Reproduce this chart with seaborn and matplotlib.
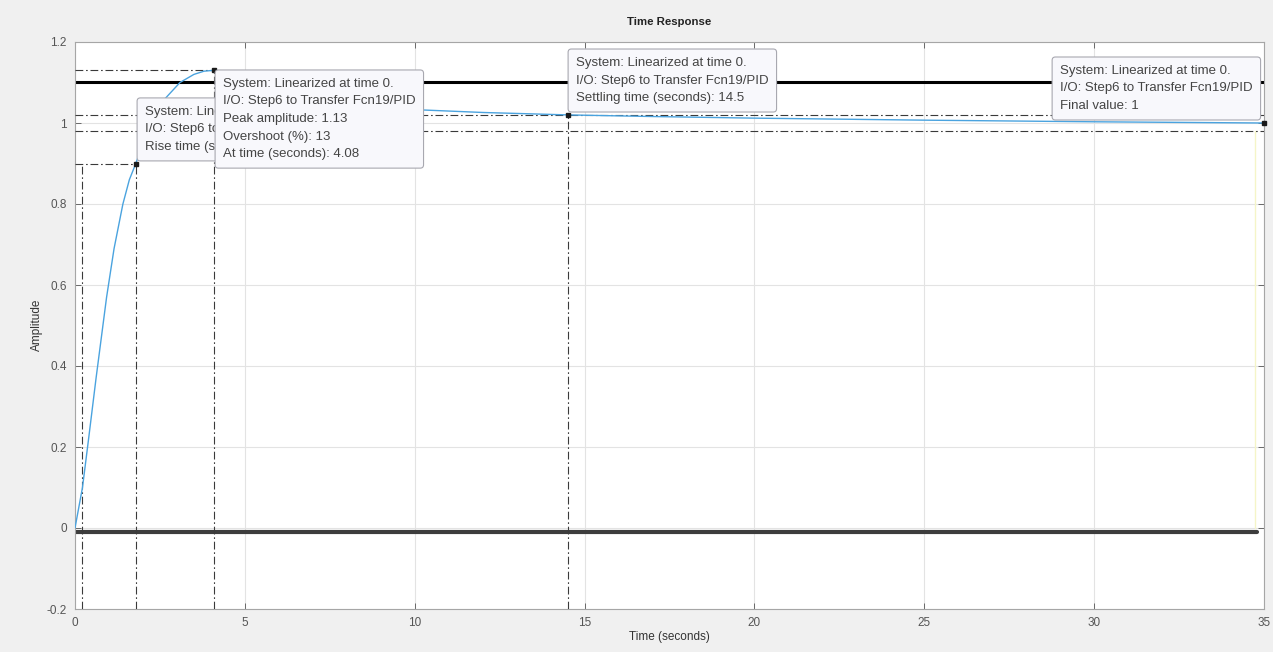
import matplotlib
matplotlib.use("Agg")
import matplotlib.pyplot as plt
import seaborn as sns
import pandas as pd
from matplotlib.ticker import FuncFormatter

# Step response samples (time in seconds, amplitude)
time_s = [0, 0.22, 0.4, 0.62, 0.93, 1.15, 1.41, 1.6, 1.79, 2.0, 2.3, 2.65,
          3.09, 3.5, 3.8, 4.08, 4.5, 5.0, 6.0, 7.0, 8.0, 9.0, 10.0, 12.0,
          14.5, 17.0, 20.0, 25.0, 30.0, 35.0]
amplitude = [0, 0.1, 0.22, 0.37, 0.57, 0.69, 0.8, 0.86, 0.9, 0.95, 1.01, 1.06,
             1.1, 1.12, 1.128, 1.13, 1.127, 1.118, 1.09, 1.065, 1.05, 1.04,
             1.033, 1.026, 1.02, 1.016, 1.012, 1.007, 1.003, 1.0]

# Response characteristics
rise_start = 0.22
rise_end, rise_level = 1.79, 0.9
peak_time, peak_amp, overshoot = 4.08, 1.13, 13
settle_time, settle_level = 14.5, 1.02
band_hi, band_lo = 1.02, 0.98
final_time, final_value = 35.0, 1.0

# Requirement bounds
upper_bound = 1.1
lower_bound = -0.01

x_ticks = [0, 5, 10, 15, 20, 25, 30, 35]
y_ticks = [-0.2, 0, 0.2, 0.4, 0.6, 0.8, 1.0, 1.2]

sns.set_style("ticks")
plt.rcParams["font.family"] = ["Liberation Sans", "DejaVu Sans"]
plt.rcParams["axes.unicode_minus"] = False

fig = plt.figure(figsize=(12.73, 6.52), dpi=100, facecolor="#f0f0f0")
ax = fig.add_axes([75 / 1273, 1 - 609 / 652, (1264 - 75) / 1273, (609 - 42) / 652])
ax.set_facecolor("white")

df = pd.DataFrame({"t": time_s, "y": amplitude})

ax.set_xlim(0, 35)
ax.set_ylim(-0.2, 1.2)
ax.set_xticks(x_ticks)
ax.set_yticks(y_ticks)
ax.yaxis.set_major_formatter(FuncFormatter(lambda v, p: f"{v:g}"))
ax.grid(True, color="#e3e3e3", lw=0.8, zorder=0)
ax.tick_params(direction="in", top=True, right=True, length=4, width=0.6,
               colors="#555555", labelsize=8.5, pad=6)
for s in ax.spines.values():
    s.set_color("#a6a6a6")
    s.set_linewidth(0.8)

# bounds
ax.plot([0, 35], [upper_bound, upper_bound], color="black", lw=2.2, zorder=2)
ax.plot([0, 34.8], [lower_bound, lower_bound], color="#3d3d3d", lw=3.0, zorder=2)
ax.plot([34.74, 34.74], [0, band_lo], color="#f5f5c8", lw=1.0, zorder=2)

# characteristic guide lines
dd = dict(color="#3a3a3a", lw=0.8, ls=(0, (7, 2.5, 1.5, 2.5)), zorder=3)
ax.plot([0, peak_time], [peak_amp, peak_amp], **dd)
ax.plot([0, rise_end], [rise_level, rise_level], **dd)
ax.plot([0, 35], [band_hi, band_hi], **dd)
ax.plot([0, 35], [band_lo, band_lo], **dd)
for xv, yv in [(rise_start, rise_level), (rise_end, rise_level),
               (peak_time, peak_amp), (settle_time, settle_level)]:
    ax.plot([xv, xv], [-0.2, yv], **dd)

sns.lineplot(data=df, x="t", y="y", ax=ax, color="#4aa3df", lw=1.0, zorder=4)

ax.plot([rise_end, peak_time, settle_time, final_time],
        [rise_level, peak_amp, settle_level, final_value],
        ls="none", marker="s", ms=3.5, color="#1a1a1a", zorder=6, clip_on=False)

ax.set_xlabel("")
ax.set_ylabel("")

box = dict(boxstyle="round,pad=0.6,rounding_size=0.25", fc="#f8f8fc", ec="#a8a8b0", lw=0.8)
tkw = dict(fontsize=9.5, color="#444444", ha="left", va="top", linespacing=1.62)

def px(x, y):
    return ((x - 75) / 33.97, (529 - y) / 405.8)

hdr = "System: Linearized at time 0.\nI/O: Step6 to Transfer Fcn19/PID\n"
ax.text(*px(145, 106), hdr + "Rise time (seconds): 1.57", bbox=box, zorder=7, **tkw)
ax.text(*px(223, 78), hdr + f"Peak amplitude: {peak_amp:g}\nOvershoot (%): {overshoot}\n"
        f"At time (seconds): {peak_time:g}", bbox=box, zorder=8, **tkw)
ax.text(*px(576, 57), hdr + f"Settling time (seconds): {settle_time:g}", bbox=box, zorder=8, **tkw)
ax.text(*px(1060, 65), hdr + f"Final value: {final_value:g}", bbox=box, zorder=8, **tkw)

fig.text(669 / 1273, 1 - 22 / 652, "Time Response", ha="center", va="center",
         fontsize=8.2, fontweight="bold", color="#222222")
fig.text(669 / 1273, 1 - 637 / 652, "Time (seconds)", ha="center", va="center",
         fontsize=8.5, color="#333333")
fig.text(37 / 1273, 1 - 325 / 652, "Amplitude", ha="center", va="center",
         rotation=90, fontsize=8.5, color="#333333")

fig.savefig("out.png", dpi=100, facecolor=fig.get_facecolor())
